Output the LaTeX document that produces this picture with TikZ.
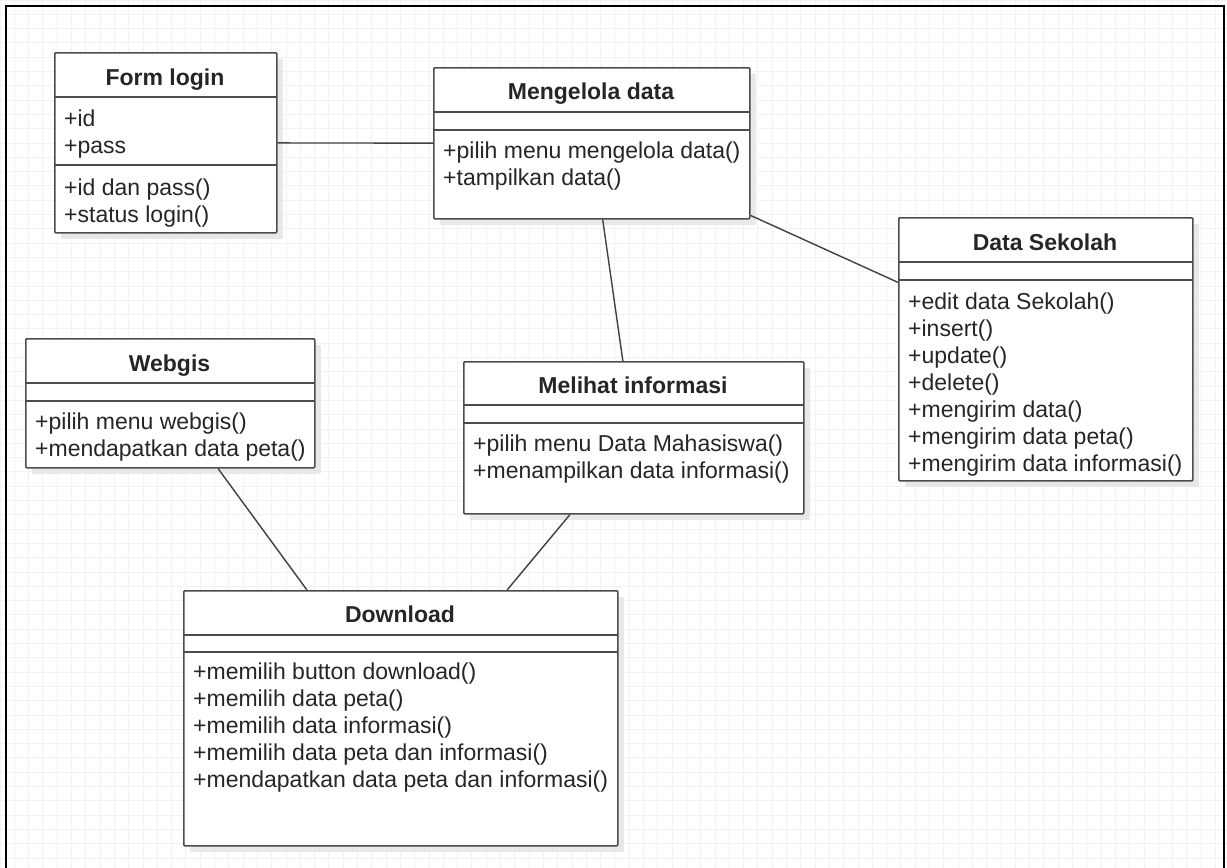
\documentclass[tikz,border=0pt]{standalone}
\usepackage{fontspec}
\setmainfont{Liberation Sans}
\usetikzlibrary{shadows}

\tikzset{
	classbox/.style={draw=black!70, line width=1.6pt, fill=white, rounded corners=1pt,
		inner sep=0pt, anchor=north west,
		drop shadow={shadow xshift=6pt, shadow yshift=-6pt, fill=black!9, opacity=1}},
	classtitle/.style={anchor=base, inner sep=0pt, text=black!85,
		font=\fontsize{23}{27}\selectfont\bfseries},
	members/.style={anchor=north west, inner sep=0pt, align=left, text=black!85,
		font=\fontsize{23}{27}\selectfont},
	divider/.style={draw=black!70, line width=1.6pt},
	assoc/.style={draw=black!75, line width=1.4pt},
}

\begin{document}
\begin{tikzpicture}[x=1pt,y=-1pt]
	\useasboundingbox (0,0) rectangle (1227,868);
	\fill[white] (0,0) rectangle (1227,868);
	\draw[black!5, line width=1pt] (0,0) grid[step=14.3pt] (1227,868);
	\draw[line width=2pt] (6,868) -- (6,6) -- (1224,6) -- (1224,868);

	% Form login
	\node[classbox, minimum width=222, minimum height=180] (login) at (54,52) {};
	\node[classtitle] (login-title) at (165,85) {Form login};
	\draw[divider] (54,97) -- (276,97);
	\draw[divider] (54,165) -- (276,165);
	\node[members] (login-attr) at (64,110) {+id\\+pass};
	\node[members] (login-ops) at (64,179) {+id dan pass()\\+status login()};

	% Mengelola data
	\node[classbox, minimum width=316, minimum height=151] (mengelola) at (433,67) {};
	\node[classtitle] (mengelola-title) at (591,99) {Mengelola data};
	\draw[divider] (433,112) -- (749,112);
	\draw[divider] (433,130) -- (749,130);
	\node[members] (mengelola-ops) at (443,142) {+pilih menu mengelola data()\\+tampilkan data()};

	% Data Sekolah
	\node[classbox, minimum width=294, minimum height=263] (sekolah) at (898,217) {};
	\node[classtitle] (sekolah-title) at (1045,250) {Data Sekolah};
	\draw[divider] (898,262) -- (1192,262);
	\draw[divider] (898,280) -- (1192,280);
	\node[members] (sekolah-ops) at (908,293) {+edit data Sekolah()\\+insert()\\+update()\\+delete()\\+mengirim data()\\+mengirim data peta()\\+mengirim data informasi()};

	% Webgis
	\node[classbox, minimum width=289, minimum height=129] (webgis) at (25,338) {};
	\node[classtitle] (webgis-title) at (169.5,371) {Webgis};
	\draw[divider] (25,383) -- (314,383);
	\draw[divider] (25,401) -- (314,401);
	\node[members] (webgis-ops) at (35,413) {+pilih menu webgis()\\+mendapatkan data peta()};

	% Melihat informasi
	\node[classbox, minimum width=340, minimum height=152] (melihat) at (463,361) {};
	\node[classtitle] (melihat-title) at (633,393) {Melihat informasi};
	\draw[divider] (463,405) -- (803,405);
	\draw[divider] (463,423) -- (803,423);
	\node[members] (melihat-ops) at (473,435) {+pilih menu Data Mahasiswa()\\+menampilkan data informasi()};

	% Download
	\node[classbox, minimum width=434, minimum height=255] (download) at (183,590) {};
	\node[classtitle] (download-title) at (400,622) {Download};
	\draw[divider] (183,635) -- (617,635);
	\draw[divider] (183,652) -- (617,652);
	\node[members] (download-ops) at (193,663) {+memilih button download()\\+memilih data peta()\\+memilih data informasi()\\+memilih data peta dan informasi()\\+mendapatkan data peta dan informasi()};

	% associations
	\draw[assoc] (login) -- (mengelola);
	\draw[assoc] (mengelola) -- (melihat);
	\draw[assoc] (mengelola) -- (sekolah);
	\draw[assoc] (webgis) -- (download);
	\draw[assoc] (melihat) -- (download);
\end{tikzpicture}
\end{document}
